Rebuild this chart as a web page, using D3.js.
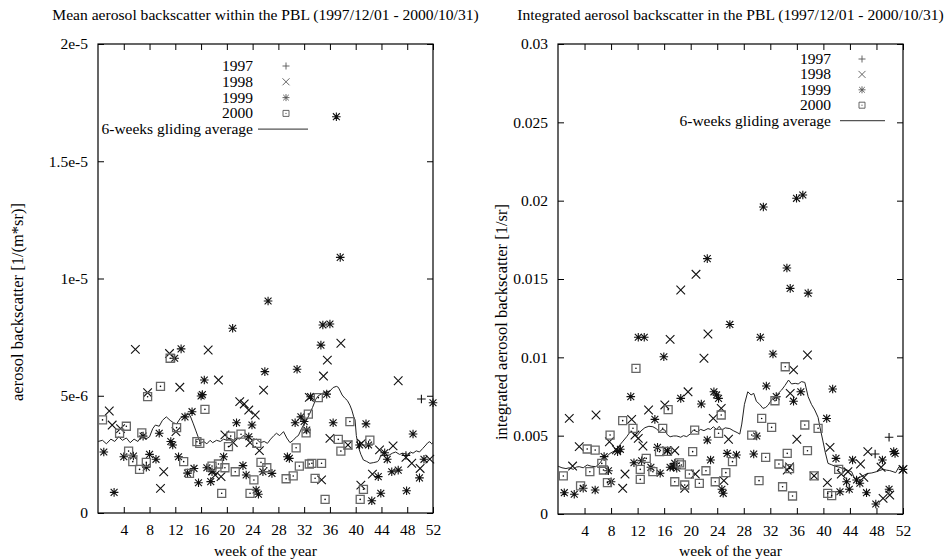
<!DOCTYPE html>
<html>
<head>
<meta charset="utf-8">
<script src="https://cdn.jsdelivr.net/npm/d3@7"></script>
<style>
  body { margin: 0; background: #fff; }
  svg { display: block; }
  text { font-family: "Liberation Serif", "Times New Roman", serif; fill: #000; }
</style>
</head>
<body>
<svg id="chart"></svg>
<script>
// week ticks shared by both panels
const weekTicks = [4, 8, 12, 16, 20, 24, 28, 32, 36, 40, 44, 48, 52];

// ---- left panel: mean backscatter, values in 1e-6 1/(m*sr) ----
const meanTicks = [0, 5, 10, 15, 20];
const meanTickLabels = ["0", "5e-6", "1e-5", "1.5e-5", "2e-5"];

const mean1997 = [[47.8, 2.45], [50.2, 4.86]];
const mean1998 = [[1.75, 4.35], [2.2, 3.75], [3.5, 3.6], [5.8, 6.98], [7.7, 5.13], [9.7, 1.05], [10.2, 1.76],
  [11.1, 6.8], [12.1, 3.47], [12.7, 5.36], [17.1, 6.95], [17.8, 1.8], [18.2, 1.62], [18.7, 5.67], [19.1, 1.55],
  [19.7, 3.33], [21, 3.0], [22, 4.75], [22.7, 4.65], [23.4, 4.39], [23.6, 3.0], [24.4, 4.18], [25.05, 2.66],
  [25.7, 5.24], [32.8, 4.93], [34.7, 1.41], [35, 5.84], [35.6, 6.52], [36, 3.18], [37.7, 7.24], [38.8, 2.9],
  [40.8, 1.19], [40.9, 2.97], [42.6, 1.66], [43.7, 2.69], [45.8, 2.86], [46.6, 5.64], [47.8, 2.37], [48.7, 2.12],
  [50, 1.9], [51.5, 2.3]];
const mean1999 = [[0.9, 2.6], [2.5, 0.88], [4, 2.4], [5.5, 2.43], [7, 3.28], [7.5, 1.95], [8, 2.5], [9, 2.29],
  [9.5, 3.4], [11.3, 3.05], [11.6, 2.9], [11.9, 6.6], [12.5, 2.4], [12.9, 7.0], [13.5, 4.1], [13.9, 1.7],
  [14.6, 4.32], [14.9, 1.9], [15.6, 1.29], [16, 4.99], [16.2, 5.05], [16.5, 5.67], [16.9, 1.93], [17.5, 1.34],
  [17.7, 1.76], [19.5, 2.4], [20.9, 7.88], [21.5, 3.85], [22.5, 2.02], [23, 1.62], [23.4, 3.25], [23.9, 3.75],
  [24.55, 0.98], [24.9, 0.8], [25.6, 1.76], [25.9, 6.03], [26.4, 9.04], [27, 1.69], [29.4, 2.4], [29.7, 2.33],
  [30.6, 3.85], [30.9, 6.13], [31.5, 4.1], [32.0, 3.9], [32.4, 3.54], [33, 4.96], [34.6, 7.16], [34.9, 8.02],
  [35.5, 5.07], [36, 8.06], [36.5, 3.85], [37.0, 16.9], [37.6, 10.9], [40.6, 2.9], [41.6, 3.8], [42, 2.9],
  [42.5, 0.52], [43.5, 1.55], [43.9, 0.84], [44.5, 2.57], [44.9, 2.29], [45.6, 1.76], [46.6, 1.83], [47.9, 0.95],
  [48.9, 3.37], [49.9, 1.5], [50.6, 2.29], [52, 4.7]];
const mean2000 = [[0.7, 3.97], [3.35, 3.4], [4.4, 3.7], [4.75, 2.64], [5.4, 2.19], [6.45, 1.86], [6.8, 3.42],
  [7.5, 2.16], [7.7, 4.96], [9.7, 5.4], [11.2, 6.6], [12.2, 3.64], [13.3, 2.19], [14.2, 1.69], [15.35, 3.04],
  [15.8, 2.97], [16.6, 4.42], [17.7, 2.0], [18.7, 2.09], [19.2, 0.84], [19.7, 1.93], [20.25, 2.83], [20.6, 3.28],
  [21.3, 1.76], [22.2, 3.36], [23.6, 0.84], [24.2, 1.41], [24.65, 2.97], [25.3, 2.16], [26.2, 1.93], [29.2, 1.46],
  [30.3, 1.58], [30.75, 2.78], [31.25, 2.0], [32.3, 3.42], [32.65, 4.22], [32.8, 2.09], [33.2, 2.12], [33.7, 1.48],
  [34.2, 4.92], [34.7, 2.12], [35.25, 0.58], [37.3, 3.14], [37.7, 2.64], [38.8, 2.9], [39.1, 3.9], [40.7, 0.58],
  [41.2, 1.01], [42.2, 3.11]];
const meanAvg = [[0, 3.05], [0.7, 3.1], [1.3, 2.95], [2, 3.15], [2.6, 3.05], [3.2, 3.25], [3.8, 3.1], [4.4, 3.2],
  [5, 3.0], [5.6, 3.15], [6.2, 3.05], [6.8, 3.3], [7.4, 3.15], [8, 3.25], [8.5, 3.6], [8.9, 3.75], [9.5, 3.7],
  [10, 3.95], [10.6, 4.1], [11.2, 3.95], [11.7, 3.85], [12.2, 3.8], [12.8, 4.05], [13.4, 4.15], [13.9, 4.25],
  [14.3, 4.15], [14.8, 3.8], [15.2, 3.5], [15.6, 3.2], [15.9, 2.97], [16.4, 3.05], [16.9, 2.95], [17.4, 3.1],
  [17.8, 3.0], [18.4, 3.1], [19, 3.05], [19.5, 3.15], [20, 3.1], [20.5, 3.2], [21, 3.1], [21.5, 3.2], [22, 3.15],
  [22.5, 3.3], [23, 3.25], [23.5, 3.2], [24, 3.1], [24.6, 3.15], [25.2, 3.0], [25.8, 3.05], [26.3, 2.97],
  [26.8, 3.15], [27.3, 3.3], [27.7, 3.4], [28.2, 3.3], [28.8, 3.47], [29.3, 3.2], [29.8, 3.0], [30.3, 3.1],
  [30.8, 3.25], [31.1, 3.3], [31.6, 3.6], [32.0, 3.8], [32.4, 3.97], [32.8, 4.2], [33.3, 4.5], [33.8, 4.85],
  [34.2, 5.0], [34.8, 5.1], [35.5, 5.17], [36, 5.2], [36.5, 5.35], [37.0, 5.4], [37.3, 5.36], [37.6, 5.2],
  [37.9, 5.03], [38.3, 4.9], [38.7, 4.8], [39.1, 4.6], [39.4, 4.39], [39.7, 4.1], [39.9, 3.97], [40.1, 3.3],
  [40.4, 2.83], [40.8, 2.5], [41.2, 2.26], [41.7, 2.2], [42.2, 2.12], [42.8, 2.15], [43.4, 2.19], [43.7, 2.3],
  [43.9, 2.47], [44.5, 2.45], [45.2, 2.47], [45.7, 2.55], [46.2, 2.6], [46.8, 2.5], [47.3, 2.55], [48, 2.5],
  [48.5, 2.6], [48.9, 2.55], [49.4, 2.65], [49.9, 2.6], [50.4, 2.75], [50.9, 2.9], [51.2, 3.0], [51.5, 3.04],
  [51.8, 2.95], [52, 3.0]];

// ---- right panel: integrated backscatter, values in 1e-3 1/sr ----
const intTicks = [0, 5, 10, 15, 20, 25, 30];
const intTickLabels = ["0", "0.005", "0.01", "0.015", "0.02", "0.025", "0.03"];

const int1997 = [[47.8, 3.83], [49.9, 4.9]];
const int1998 = [[1.7, 6.1], [2.2, 3.06], [3.2, 4.3], [5.73, 6.32], [7.75, 4.61], [8.8, 4.1], [9.75, 1.64],
  [10.1, 2.55], [11.1, 6.04], [11.6, 5.04], [12.1, 4.83], [12.8, 4.34], [13.65, 6.64], [16.1, 6.96], [16.4, 4.04],
  [16.9, 11.15], [17.6, 4.04], [18.5, 14.3], [19.1, 1.64], [19.6, 7.8], [20.7, 2.55], [20.8, 15.3], [22, 9.94],
  [22.6, 11.49], [23.4, 6.1], [24.6, 6.74], [25, 2.13], [25.7, 4.77], [34.55, 2.81], [34.9, 3.0], [35, 7.7],
  [35.5, 9.2], [36, 4.77], [37.6, 10.15], [38.6, 2.43], [40.6, 2.0], [41, 4.25], [42.7, 2.55], [43.7, 2.7],
  [45.6, 3.19], [46.1, 2.34], [46.7, 3.98], [48.7, 2.98], [49, 1.0], [50, 1.21], [52, 2.85]];
const int1999 = [[0.95, 1.36], [2.45, 1.26], [3.8, 1.64], [5.6, 1.53], [6.95, 3.66], [7.6, 2.76], [8, 2.06],
  [8.98, 3.98], [9.4, 4.13], [10.97, 7.49], [11.45, 3.27], [12.1, 11.28], [12.6, 3.4], [13, 11.28], [14, 2.98],
  [14.6, 6.04], [15, 4.25], [15.4, 2.6], [15.95, 10.04], [16.5, 4.04], [16.9, 2.98], [17.4, 3.02], [17.6, 3.23],
  [17.9, 2.92], [18.5, 7.38], [21.6, 7.02], [22.5, 4.72], [22.5, 16.3], [23, 3.45], [23.5, 7.8], [23.9, 7.6],
  [24.2, 7.38], [24.7, 1.58], [24.9, 1.32], [25.5, 3.87], [25.9, 12.1], [26.9, 3.77], [29.5, 3.83], [29.95, 4.98],
  [30.5, 11.28], [30.95, 19.6], [31.4, 8.17], [32.4, 10.21], [32.9, 7.49], [34.5, 15.7], [35, 14.4], [35.5, 7.2],
  [35.95, 20.15], [36.6, 7.8], [36.9, 20.36], [37.7, 14.1], [40.5, 6.1], [41.4, 7.98], [41.9, 3.55], [42.5, 1.42],
  [43.5, 2.06], [43.9, 1.58], [44.4, 3.45], [45, 2.17], [45.5, 1.96], [46.5, 1.36], [47.9, 0.64], [48.9, 3.45],
  [49.9, 1.58], [50.6, 3.98], [50.8, 3.87], [52, 2.85]];
const int2000 = [[0.8, 2.43], [3.4, 1.79], [4.4, 4.15], [4.8, 2.7], [5.6, 4.08], [6.6, 3.23], [6.85, 2.81],
  [7.45, 2.0], [7.85, 5.04], [9.75, 5.96], [11.3, 5.47], [11.75, 9.3], [12.4, 2.85], [12.4, 2.21], [13.3, 3.55],
  [14.3, 2.7], [15.3, 3.98], [15.78, 5.47], [16.5, 4.0], [16.6, 6.66], [17.6, 2.06], [18.3, 3.26], [18.6, 3.13],
  [19.1, 1.85], [19.8, 2.55], [20.3, 3.98], [20.6, 5.36], [21.3, 1.96], [22.3, 2.76], [23.7, 2.06], [24.2, 5.15],
  [24.6, 6.32], [25.3, 2.64], [26.3, 3.34], [29.2, 5.04], [30.3, 2.13], [30.7, 6.1], [31.3, 3.62], [32.2, 5.53],
  [32.7, 7.23], [33.3, 3.19], [33.85, 1.74], [34.25, 9.4], [34.55, 3.87], [34.9, 2.9], [35.35, 1.15], [37.2, 5.68],
  [37.6, 4.04], [38.6, 2.43], [39.2, 5.47], [40.65, 1.32], [41.25, 1.17], [42.3, 2.85]];
const intAvg = [[0, 3.05], [0.6, 2.95], [1.2, 2.9], [1.7, 2.95], [2.3, 2.85], [2.8, 3.0], [3.2, 3.02], [3.8, 2.95],
  [4.4, 3.13], [5.0, 3.05], [5.7, 3.02], [6.2, 3.2], [6.85, 3.55], [7.4, 3.7], [7.85, 3.87], [8.4, 4.0], [9.1, 4.3],
  [9.7, 4.6], [10.35, 4.93], [10.8, 5.2], [11.1, 5.25], [11.5, 5.05], [11.9, 4.98], [12.5, 5.3], [13.1, 5.51],
  [13.7, 5.6], [14.3, 5.57], [14.8, 5.45], [15.3, 5.25], [15.7, 5.4], [16.1, 5.36], [16.5, 5.05], [16.9, 4.93],
  [17.4, 4.98], [17.9, 4.98], [18.5, 4.9], [18.9, 5.0], [19.4, 4.94], [19.9, 5.1], [20.4, 5.36], [21.0, 5.25],
  [21.5, 5.4], [22, 5.32], [22.6, 5.45], [23.0, 5.4], [23.4, 5.57], [23.9, 5.4], [24.3, 5.6], [24.7, 5.36],
  [25.2, 5.5], [25.9, 5.45], [26.5, 5.3], [27.0, 5.2], [27.4, 5.1], [27.7, 5.74], [28.1, 7.0], [28.6, 7.8],
  [29.1, 7.6], [29.5, 7.7], [29.9, 7.19], [30.4, 7.0], [30.9, 6.74], [31.3, 6.8], [31.7, 6.96], [32.2, 7.3],
  [32.7, 7.49], [33.2, 7.7], [33.7, 7.91], [34.2, 8.2], [34.75, 8.55], [35.2, 8.3], [35.75, 8.34], [36.2, 8.3],
  [36.7, 8.45], [37.2, 8.4], [37.7, 7.49], [38.2, 7.0], [38.7, 6.64], [39.2, 6.17], [39.5, 5.5], [39.9, 4.72],
  [40.3, 3.9], [40.7, 3.23], [41.2, 3.15], [41.7, 3.06], [42.3, 3.0], [42.9, 2.91], [43.6, 2.8], [44.25, 2.7],
  [44.7, 2.27], [45.2, 2.3], [45.7, 2.38], [46.2, 2.5], [46.7, 2.59], [47.3, 2.62], [48, 2.7], [48.5, 2.78],
  [49, 2.85], [49.5, 2.8], [50, 2.77], [50.5, 2.7], [50.9, 2.64], [51.4, 3.02], [51.7, 2.95], [52, 3.02]];

const legendYears = ["1997", "1998", "1999", "2000"];
const legendLine = "6-weeks gliding average";

const width = 947, height = 560;
const fontSize = "15.5px";
const svg = d3.select("#chart").attr("width", width).attr("height", height);

// point shapes, gnuplot style
function symbolPath(type, s) {
  if (type === "plus") return `M${-s},0H${s}M0,${-s}V${s}`;
  if (type === "cross") return `M${-s},${-s}L${s},${s}M${-s},${s}L${s},${-s}`;
  if (type === "star") return `M${-s},0H${s}M0,${-s}V${s}M${-s * 0.8},${-s * 0.8}L${s * 0.8},${s * 0.8}M${-s * 0.8},${s * 0.8}L${s * 0.8},${-s * 0.8}`;
  return `M${-s},${-s}H${s}V${s}H${-s}Z`;
}
const types = ["plus", "cross", "star", "box"];

function drawPanel(p) {
  const x = d3.scaleLinear().domain([0, 52]).range([p.left, p.right]);
  const y = d3.scaleLinear().domain([0, p.yMax]).range([p.bottom, p.top]);
  const g = svg.append("g");

  // title
  g.append("text").text(p.title)
    .attr("x", (p.left + p.right) / 2).attr("y", 20)
    .attr("text-anchor", "middle").style("font-size", "15.6px");

  // axes with inward ticks
  g.append("g").attr("transform", `translate(0,${p.bottom})`)
    .call(d3.axisBottom(x).tickValues(weekTicks).tickSize(-6).tickPadding(11));
  g.append("g").attr("transform", `translate(0,${p.top})`)
    .call(d3.axisTop(x).tickValues(weekTicks).tickSize(-6).tickFormat(""));
  g.append("g").attr("transform", `translate(${p.left},0)`)
    .call(d3.axisLeft(y).tickValues(p.ticks).tickSize(-6).tickPadding(10)
      .tickFormat((d, i) => p.tickLabels[i]));
  g.append("g").attr("transform", `translate(${p.right},0)`)
    .call(d3.axisRight(y).tickValues(p.ticks).tickSize(-6).tickFormat(""));
  g.selectAll(".domain").remove();
  g.selectAll(".tick line").attr("stroke", "#000");
  g.selectAll(".tick text").style("font-size", fontSize)
    .style("font-family", "Liberation Serif, serif");

  g.append("rect")
    .attr("x", p.left).attr("y", p.top)
    .attr("width", p.right - p.left).attr("height", p.bottom - p.top)
    .attr("fill", "none").attr("stroke", "#000").attr("stroke-width", 1.2);

  // axis labels
  g.append("text").text("week of the year")
    .attr("x", (p.left + p.right) / 2).attr("y", 556)
    .attr("text-anchor", "middle").style("font-size", fontSize);
  g.append("text").text(p.yLabel)
    .attr("transform", `translate(${p.yLabelX},${p.yLabelY}) rotate(-90)`)
    .attr("text-anchor", "middle").style("font-size", "16.5px");

  // gliding average
  const line = d3.line().x(d => x(d[0])).y(d => y(d[1]));
  g.append("path").datum(p.avg)
    .attr("d", line).attr("fill", "none")
    .attr("stroke", "#222").attr("stroke-width", 1);

  // scatter points
  p.series.forEach((data, i) => {
    const t = types[i];
    const pts = g.append("g");
    pts.selectAll("path").data(data).enter().append("path")
      .attr("transform", d => `translate(${x(d[0])},${y(d[1])})`)
      .attr("d", symbolPath(t, t === "box" ? 4 : 4.3))
      .attr("fill", "none")
      .attr("stroke", t === "box" ? "#666" : "#111")
      .attr("stroke-width", t === "box" ? 1.3 : 1.1);
    if (t === "box") {
      pts.selectAll("circle").data(data).enter().append("circle")
        .attr("cx", d => x(d[0])).attr("cy", d => y(d[1]))
        .attr("r", 0.8).attr("fill", "#000");
    }
  });

  // legend
  const lg = g.append("g");
  legendYears.forEach((yr, i) => {
    const ly = p.legY + i * p.legStep;
    lg.append("text").text(yr)
      .attr("x", p.legTextX).attr("y", ly + 5)
      .attr("text-anchor", "end").style("font-size", fontSize);
    lg.append("path")
      .attr("transform", `translate(${p.legSymX},${ly})`)
      .attr("d", symbolPath(types[i], types[i] === "box" ? 3 : 3.5))
      .attr("fill", "none").attr("stroke", "#555").attr("stroke-width", 0.9);
    if (types[i] === "box") {
      lg.append("circle").attr("cx", p.legSymX).attr("cy", ly)
        .attr("r", 0.6).attr("fill", "#555");
    }
  });
  const ly = p.legY + 4 * p.legStep;
  lg.append("text").text(legendLine)
    .attr("x", p.legTextX).attr("y", ly + 5)
    .attr("text-anchor", "end").style("font-size", fontSize);
  lg.append("line")
    .attr("x1", p.legLine[0]).attr("x2", p.legLine[1])
    .attr("y1", ly).attr("y2", ly)
    .attr("stroke", "#555").attr("stroke-width", 1.2);
}

drawPanel({
  title: "Mean aerosol backscatter within the PBL (1997/12/01 - 2000/10/31)",
  yLabel: "aerosol backscatter [1/(m*sr)]",
  left: 98, right: 433, top: 44, bottom: 513,
  yMax: 20, ticks: meanTicks, tickLabels: meanTickLabels,
  yLabelX: 23, yLabelY: 302,
  series: [mean1997, mean1998, mean1999, mean2000], avg: meanAvg,
  legY: 66, legStep: 15.8, legTextX: 253, legSymX: 286, legLine: [258, 308]
});

drawPanel({
  title: "Integrated aerosol backscatter in the PBL (1997/12/01 - 2000/10/31)",
  yLabel: "integrated aerosol backscatter [1/sr]",
  left: 558, right: 903, top: 44, bottom: 514,
  yMax: 30, ticks: intTicks, tickLabels: intTickLabels,
  yLabelX: 507, yLabelY: 322,
  series: [int1997, int1998, int1999, int2000], avg: intAvg,
  legY: 59, legStep: 15.4, legTextX: 831, legSymX: 862, legLine: [840, 885]
});
</script>
</body>
</html>
